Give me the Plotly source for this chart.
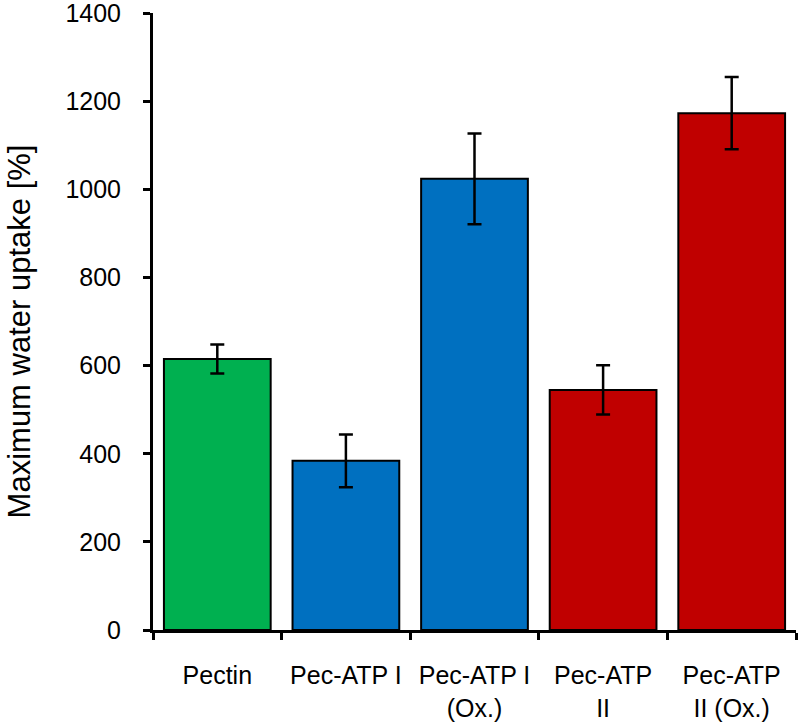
import plotly.graph_objects as go

categories = ["Pectin", "Pec-ATP I", "Pec-ATP I<br>(Ox.)", "Pec-ATP<br>II", "Pec-ATP<br>II (Ox.)"]
values = [615, 384, 1024, 545, 1173]
errors = [33, 60, 103, 56, 82]
colors = ["#00B050", "#0070C0", "#0070C0", "#C00000", "#C00000"]
y_ticks = [0, 200, 400, 600, 800, 1000, 1200, 1400]
y_title = "Maximum water uptake [%]"

FONT = "Arial, Liberation Sans, sans-serif"

fig = go.Figure(
    go.Bar(
        x=categories,
        y=values,
        marker=dict(color=colors, line=dict(color="black", width=2)),
        width=0.83,
        error_y=dict(type="data", array=errors, visible=True, color="black", thickness=2.5, width=7),
    )
)

fig.update_layout(
    width=799,
    height=723,
    margin=dict(l=153, r=3, t=13, b=93, autoexpand=False),
    plot_bgcolor="white",
    paper_bgcolor="white",
    font=dict(family=FONT, color="black"),
    showlegend=False,
    annotations=[
        dict(
            text=y_title,
            xref="paper",
            yref="paper",
            x=-0.207,
            y=0.4838,
            xanchor="center",
            yanchor="middle",
            textangle=-90,
            showarrow=False,
            font=dict(size=31, family=FONT, color="black"),
        )
    ],
)

fig.update_xaxes(
    type="category",
    showline=True,
    linecolor="black",
    linewidth=3,
    ticks="outside",
    tickson="boundaries",
    ticklen=7,
    tickwidth=2.5,
    tickcolor="black",
    tickfont=dict(size=25, family=FONT),
    ticklabelstandoff=21,
    showgrid=False,
    zeroline=False,
)

fig.update_yaxes(
    range=[0, 1400.5],
    tickvals=y_ticks,
    showline=True,
    linecolor="black",
    linewidth=3,
    ticks="outside",
    ticklen=7,
    tickwidth=2.5,
    tickcolor="black",
    tickfont=dict(size=25, family=FONT),
    ticklabelstandoff=17,
    ticklabeloverflow="allow",
    showgrid=False,
    zeroline=False,
    automargin=False,
)

fig.write_html(
    "out.html",
    config={"displayModeBar": False},
    post_script="document.body.style.margin='0';document.body.style.padding='0';",
)
